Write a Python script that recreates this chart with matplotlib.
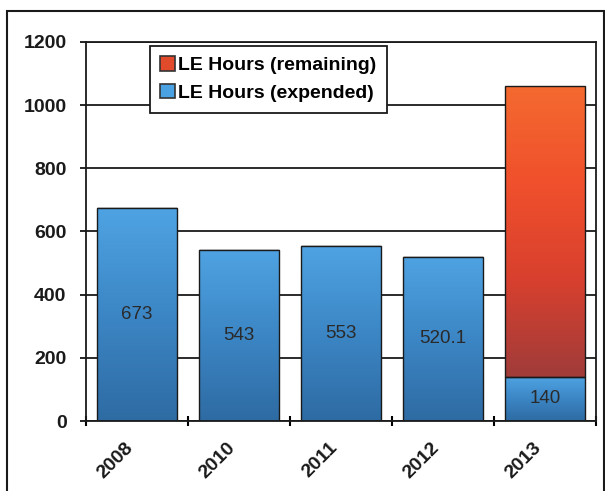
import numpy as np
import matplotlib
matplotlib.use("Agg")
from matplotlib import pyplot as plt
from matplotlib.colors import LinearSegmentedColormap
from matplotlib.patches import Rectangle, Patch

years = ["2008", "2010", "2011", "2012", "2013"]
expended = [673, 543, 553, 520.1, 140]
remaining = [0, 0, 0, 0, 922]
value_labels = ["673", "543", "553", "520.1", "140"]

plt.rcParams["font.family"] = ["Liberation Sans", "DejaVu Sans"]

fig = plt.figure(figsize=(6.05, 4.91), dpi=100)
ax = fig.add_axes([86/605, 1 - 421/491, 510/605, 379/491])

x = np.arange(len(years))
blue_bars = ax.bar(x, expended, width=0.79, color="#4a9ee0", edgecolor="#1a1a1a", linewidth=1, zorder=2)
red_bars = ax.bar(x, remaining, width=0.79, bottom=expended, color="#e04a2a", edgecolor="#1a1a1a", linewidth=1, zorder=2)

blue_cmap = LinearSegmentedColormap.from_list("b", ["#2e6ba3", "#3c86c5", "#4fa3e2"])
red_cmap = LinearSegmentedColormap.from_list("r", ["#a03c3a", "#d8402e", "#f0502c", "#f46a30"])
grad = np.linspace(0, 1, 256).reshape(-1, 1)

def shade(bars, cmap):
    for b in bars:
        if b.get_height() <= 0:
            continue
        x0, y0 = b.get_x(), b.get_y()
        im = ax.imshow(grad, extent=[x0, x0 + b.get_width(), y0, y0 + b.get_height()],
                       origin="lower", cmap=cmap, aspect="auto", zorder=2.5)
        im.set_clip_path(b)
        b.set_facecolor("none")
        b.set_zorder(3)

shade(blue_bars, blue_cmap)
shade(red_bars, red_cmap)

for xi, v, lab in zip(x, expended, value_labels):
    ax.text(xi, v / 2, lab, ha="center", va="center", fontsize=13.5, color="#2a2a2a", zorder=4)

ax.set_xlim(-0.5, len(years) - 0.5)
ax.set_ylim(0, 1200)
ax.set_yticks(range(0, 1201, 200))
ax.set_yticklabels([str(t) for t in range(0, 1201, 200)], fontsize=14, fontweight="bold", color="#1a1a1a")
ax.yaxis.grid(True, color="#1a1a1a", linewidth=1.3, zorder=1)
ax.set_axisbelow(True)
ax.tick_params(axis="y", length=4, width=1.2, pad=10)

ax.set_xticks(x)
ax.set_xticklabels(years, rotation=45, ha="right", fontsize=14, fontweight="bold", color="#1a1a1a")
ax.tick_params(axis="x", which="major", length=0, pad=13)
ax.set_xticks(np.arange(-0.5, len(years)), minor=True)
ax.tick_params(axis="x", which="minor", length=7, width=1.5, direction="inout")

for s in ax.spines.values():
    s.set_linewidth(1.3)
    s.set_color("#1a1a1a")

handles = [Patch(facecolor="#e24a2c", edgecolor="#333333", linewidth=1.2),
           Patch(facecolor="#4aa2e2", edgecolor="#333333", linewidth=1.2)]
leg = ax.legend(handles, ["LE Hours (remaining)", "LE Hours (expended)"],
                loc="upper left", bbox_to_anchor=(0.125, 0.99), fancybox=False,
                framealpha=1, edgecolor="#1a1a1a", handlelength=0.75, handleheight=0.75,
                handletextpad=0.15, borderpad=0.55, labelspacing=0.5, borderaxespad=0,
                prop={"size": 14, "weight": "bold"})
leg.get_frame().set_linewidth(1.3)
leg.set_zorder(5)

fig.patches.append(Rectangle((7/605, -0.02), 597/605, 1 - 11/491 + 0.02, transform=fig.transFigure,
                             fill=False, edgecolor="#1a1a1a", linewidth=1.5))

fig.savefig("out.png", dpi=100)
